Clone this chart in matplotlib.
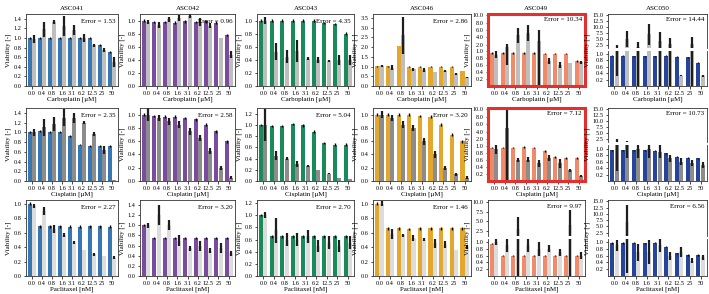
import numpy as np
import matplotlib.pyplot as plt
from matplotlib.patches import Rectangle

plt.rcParams['font.family'] = ['Liberation Serif', 'DejaVu Serif']
plt.rcParams['font.size'] = 4.5

W, H = 709, 294

lines = ['ASC041', 'ASC042', 'ASC043', 'ASC046', 'ASC049', 'ASC050']
doses = ['0.0', '0.4', '0.8', '1.6', '3.1', '6.2', '12.5', '25', '50']
drugs = ['Carboplatin [μM]', 'Cisplatin [μM]', 'Paclitaxel [nM]']
colors = ['#3778b4', '#7b4b9e', '#1b8a5a', '#e3a82b', '#f08a68', '#26449a']
greys = ['#bebebe', '#8c8c8c', '#dcdcdc']
model_sd = 0.02

# carboplatin
carbo_model = {
    'ASC041': [1.0, 1.0, 1.0, 1.0, 1.0, 1.0, 1.0, 0.85, 0.7],
    'ASC042': [1.0, 0.98, 0.98, 0.97, 0.99, 0.98, 0.99, 0.97, 0.78],
    'ASC043': [1.0, 1.0, 1.0, 1.0, 1.0, 1.0, 0.96, 0.95, 0.8],
    'ASC046': [1.02, 1.02, 2.05, 1.0, 1.0, 1.0, 1.0, 1.0, 0.77],
    'ASC049': [0.95, 0.95, 0.95, 0.95, 0.95, 0.93, 0.93, 0.93, 0.72],
    'ASC050': [0.95, 0.95, 0.93, 0.93, 0.93, 0.95, 0.92, 0.9, 0.73],
}
carbo_mean = {
    'ASC041': [0.98, 1.18, 1.33, 1.25, 1.17, 1.0, 0.85, 0.75, 0.5],
    'ASC042': [0.98, 0.93, 1.02, 1.04, 1.07, 0.98, 0.92, 0.74, 0.48],
    'ASC043': [1.0, 0.52, 0.45, 0.53, 0.42, 0.4, 0.38, 0.4, 0.4],
    'ASC046': [1.05, 0.95, 2.6, 0.85, 0.82, 0.72, 0.77, 0.62, 0.45],
    'ASC049': [0.9, 1.4, 4.5, 5.2, 3.0, 0.72, 0.6, 0.65, 0.68],
    'ASC050': [1.4, 5.0, 1.8, 7.0, 4.0, 2.8, 0.32, 3.0, 0.3],
}
carbo_sd = {
    'ASC041': [0.08, 0.15, 0.04, 0.2, 0.1, 0.08, 0.03, 0.05, 0.1],
    'ASC042': [0.03, 0.05, 0.04, 0.04, 0.03, 0.06, 0.04, 0.0, 0.05],
    'ASC043': [0.06, 0.13, 0.1, 0.17, 0.02, 0.05, 0.02, 0.08, 0.08],
    'ASC046': [0.05, 0.12, 0.95, 0.1, 0.1, 0.02, 0.07, 0.05, 0.02],
    'ASC049': [0.1, 0.8, 2.0, 2.3, 3.0, 0.1, 0.08, 0.0, 0.05],
    'ASC050': [1.1, 3.5, 1.8, 4.5, 4.0, 2.8, 0.02, 3.0, 0.03],
}

# cisplatin
cis_model = {
    'ASC041': [1.0, 1.02, 1.0, 1.0, 0.93, 0.75, 0.72, 0.72, 0.72],
    'ASC042': [1.0, 0.98, 0.97, 0.97, 0.95, 0.93, 0.85, 0.75, 0.6],
    'ASC043': [1.0, 0.98, 0.98, 1.01, 0.99, 0.88, 0.68, 0.65, 0.65],
    'ASC046': [1.0, 1.0, 1.0, 1.0, 0.98, 0.97, 0.85, 0.7, 0.6],
    'ASC049': [0.95, 0.95, 0.95, 0.97, 0.95, 0.85, 0.68, 0.65, 0.65],
    'ASC050': [0.95, 0.95, 0.95, 0.95, 0.93, 0.85, 0.75, 0.72, 0.7],
}
cis_mean = {
    'ASC041': [1.0, 1.1, 1.17, 1.3, 1.3, 1.2, 0.97, 0.63, 0.03],
    'ASC042': [1.0, 0.95, 0.9, 0.85, 0.75, 0.65, 0.45, 0.2, 0.05],
    'ASC043': [1.0, 0.45, 0.4, 0.3, 0.27, 0.2, 0.13, 0.05, 0.03],
    'ASC046': [1.0, 0.95, 0.85, 0.8, 0.6, 0.4, 0.2, 0.1, 0.05],
    'ASC049': [0.9, 5.0, 0.6, 0.6, 0.5, 0.65, 0.5, 0.3, 0.15],
    'ASC050': [1.5, 1.2, 1.0, 1.0, 0.9, 0.7, 0.6, 0.55, 0.5],
}
cis_sd = {
    'ASC041': [0.07, 0.18, 0.14, 0.17, 0.1, 0.03, 0.04, 0.08, 0.0],
    'ASC042': [0.1, 0.05, 0.05, 0.05, 0.05, 0.05, 0.05, 0.03, 0.02],
    'ASC043': [0.28, 0.08, 0.03, 0.05, 0.02, 0.0, 0.01, 0.0, 0.0],
    'ASC046': [0.05, 0.05, 0.05, 0.05, 0.05, 0.05, 0.03, 0.02, 0.02],
    'ASC049': [0.12, 5.5, 0.05, 0.07, 0.1, 0.08, 0.12, 0.05, 0.03],
    'ASC050': [1.2, 0.5, 0.3, 0.3, 0.2, 0.1, 0.1, 0.1, 0.1],
}

# paclitaxel
pac_model = {
    'ASC041': [1.0, 0.69, 0.69, 0.69, 0.68, 0.68, 0.69, 0.69, 0.68],
    'ASC042': [1.0, 0.75, 0.75, 0.75, 0.75, 0.75, 0.75, 0.75, 0.75],
    'ASC043': [1.0, 0.65, 0.65, 0.65, 0.65, 0.65, 0.65, 0.65, 0.65],
    'ASC046': [1.0, 0.66, 0.66, 0.65, 0.66, 0.66, 0.66, 0.66, 0.66],
    'ASC049': [0.95, 0.6, 0.6, 0.6, 0.6, 0.6, 0.6, 0.6, 0.6],
    'ASC050': [0.97, 0.97, 0.98, 0.96, 0.98, 0.87, 0.67, 0.62, 0.62],
}
pac_mean = {
    'ASC041': [0.97, 0.9, 0.65, 0.57, 0.46, 0.36, 0.3, 0.27, 0.25],
    'ASC042': [1.0, 1.2, 1.0, 0.7, 0.55, 0.6, 0.5, 0.55, 0.45],
    'ASC043': [1.0, 0.75, 0.6, 0.6, 0.65, 0.5, 0.55, 0.5, 0.55],
    'ASC046': [1.0, 0.58, 0.56, 0.52, 0.5, 0.45, 0.43, 0.36, 0.4],
    'ASC049': [1.0, 0.9, 3.0, 0.9, 0.8, 0.8, 0.7, 4.0, 0.6],
    'ASC050': [0.9, 6.8, 0.7, 0.7, 0.9, 0.6, 0.7, 0.45, 0.55],
}
pac_sd = {
    'ASC041': [0.03, 0.06, 0.05, 0.03, 0.02, 0.0, 0.02, 0.0, 0.02],
    'ASC042': [0.05, 0.2, 0.1, 0.1, 0.05, 0.1, 0.05, 0.1, 0.05],
    'ASC043': [0.05, 0.2, 0.1, 0.1, 0.1, 0.1, 0.1, 0.1, 0.1],
    'ASC046': [0.03, 0.07, 0.02, 0.04, 0.02, 0.06, 0.05, 0.0, 0.03],
    'ASC049': [0.1, 0.2, 3.0, 0.2, 0.2, 0.1, 0.1, 4.0, 0.1],
    'ASC050': [0.15, 6.7, 0.25, 0.35, 0.2, 0.12, 0.15, 0.07, 0.08],
}

errors = [
    [1.53, 0.96, 4.35, 2.86, 10.34, 14.44],
    [2.35, 2.58, 5.04, 3.20, 7.12, 10.73],
    [2.27, 3.20, 2.70, 1.46, 9.97, 6.56],
]

col_x = [(26, 118), (140, 235), (257, 354), (373, 471), (488, 585), (608, 707)]
row_y = [(14, 86), (108, 181), (200, 276)]

# y range per simple panel: (top, tick step)
simple_ylim = [
    [(1.5, 0.2), (1.1, 0.2), (1.1, 0.2), (3.7, 0.5)],
    [(1.5, 0.2), (1.1, 0.2), (1.3, 0.2), (1.1, 0.2)],
    [(1.05, 0.2), (1.5, 0.2), (1.25, 0.2), (1.05, 0.2)],
]
# broken panels: upper axis limits and ticks
upper_lim = {'ASC049': (1.1, 10.4, [2, 4, 6, 8, 10]),
             'ASC050': (1.3, 15.5, [2.5, 5, 7.5, 10, 12.5, 15])}
pac_upper_049 = (1.3, 10.5, [2.5, 5.0, 7.5, 10.0])


def px_axes(fig, x0, x1, y0, y1):
    return fig.add_axes([x0 / W, 1 - y1 / H, (x1 - x0) / W, (y1 - y0) / H])


def style(ax):
    for s in ax.spines.values():
        s.set_linewidth(0.6)
        s.set_color('#333333')
    ax.tick_params(length=1.8, width=0.5, pad=1.5, labelsize=4.5)


def draw_bars(ax, model, mean, sd, color, grey):
    x = np.arange(len(doses))
    ax.bar(x - 0.2, model, 0.38, color=color)
    ax.bar(x + 0.2, mean, 0.38, color=grey)
    ax.errorbar(x - 0.2, model, yerr=model_sd, fmt='none', ecolor='black', elinewidth=1.0)
    ax.errorbar(x + 0.2, mean, yerr=sd, fmt='none', ecolor='#1e1e1e', elinewidth=1.6)
    ax.set_xlim(-0.6, len(doses) - 0.4)


fig = plt.figure(figsize=(W / 100, H / 100), dpi=100)

all_data = [(carbo_model, carbo_mean, carbo_sd),
            (cis_model, cis_mean, cis_sd),
            (pac_model, pac_mean, pac_sd)]

for r, (mod, mea, sds) in enumerate(all_data):
    y0, y1 = row_y[r]
    for c, name in enumerate(lines):
        x0, x1 = col_x[c]
        err_txt = 'Error = %.2f' % errors[r][c]
        if name in upper_lim:
            lo, hi, ticks = upper_lim[name]
            if name == 'ASC049' and r == 2:
                lo, hi, ticks = pac_upper_049
            framed = name == 'ASC049' and r < 2
            split = y0 + (y1 - y0) * 0.47
            gap = 0 if framed else 3
            top = px_axes(fig, x0, x1, y0, split)
            bot = px_axes(fig, x0, x1, split + gap, y1)
            for ax in (top, bot):
                draw_bars(ax, mod[name], mea[name], sds[name], colors[c], greys[r])
                style(ax)
            top.set_ylim(lo, hi)
            top.set_yticks(ticks)
            top.set_yticklabels(['%.1f' % t for t in ticks])
            top.set_xticks([])
            bot.set_ylim(0, 1.1)
            bot.set_yticks([0.2, 0.4, 0.6, 0.8, 1.0])
            bot.set_yticklabels(['%.1f' % t for t in [0.2, 0.4, 0.6, 0.8, 1.0]])
            bot.set_xticks(range(len(doses)))
            bot.set_xticklabels(doses)
            bot.set_xlabel(drugs[r], fontsize=5, labelpad=1)
            top.text(0.97, 0.9, err_txt, transform=top.transAxes, ha='right', va='top', fontsize=5)
            fig.text((x0 - 21) / W, 1 - (y0 + y1) / 2 / H, 'Viability [-]', rotation=90,
                     ha='center', va='center', fontsize=5)
            top.spines['bottom'].set_visible(False)
            bot.spines['top'].set_visible(False)
            if framed:
                for ax in (top, bot):
                    for s in ax.spines.values():
                        s.set_visible(False)
                fig.patches.append(Rectangle((x0 / W, 1 - y1 / H), (x1 - x0) / W, (y1 - y0) / H,
                                             transform=fig.transFigure, fill=False,
                                             edgecolor='#e3302c', linewidth=2.2))
            if r == 0:
                top.set_title(name, fontsize=5, pad=3)
        else:
            ax = px_axes(fig, x0, x1, y0, y1)
            draw_bars(ax, mod[name], mea[name], sds[name], colors[c], greys[r])
            style(ax)
            ymax, step = simple_ylim[r][c]
            ticks = np.arange(0, ymax + 1e-9, step)
            ticks = ticks[ticks <= ymax - 0.02]
            ax.set_ylim(0, ymax)
            ax.set_yticks(ticks)
            ax.set_yticklabels(['%.1f' % t for t in ticks])
            ax.set_xticks(range(len(doses)))
            ax.set_xticklabels(doses)
            ax.set_xlabel(drugs[r], fontsize=5, labelpad=1)
            ax.set_ylabel('Viability [-]', fontsize=5, labelpad=1.5)
            ax.text(0.97, 0.93, err_txt, transform=ax.transAxes, ha='right', va='top', fontsize=5)
            if r == 0:
                ax.set_title(name, fontsize=5, pad=3)

fig.savefig('out.png', dpi=100)
